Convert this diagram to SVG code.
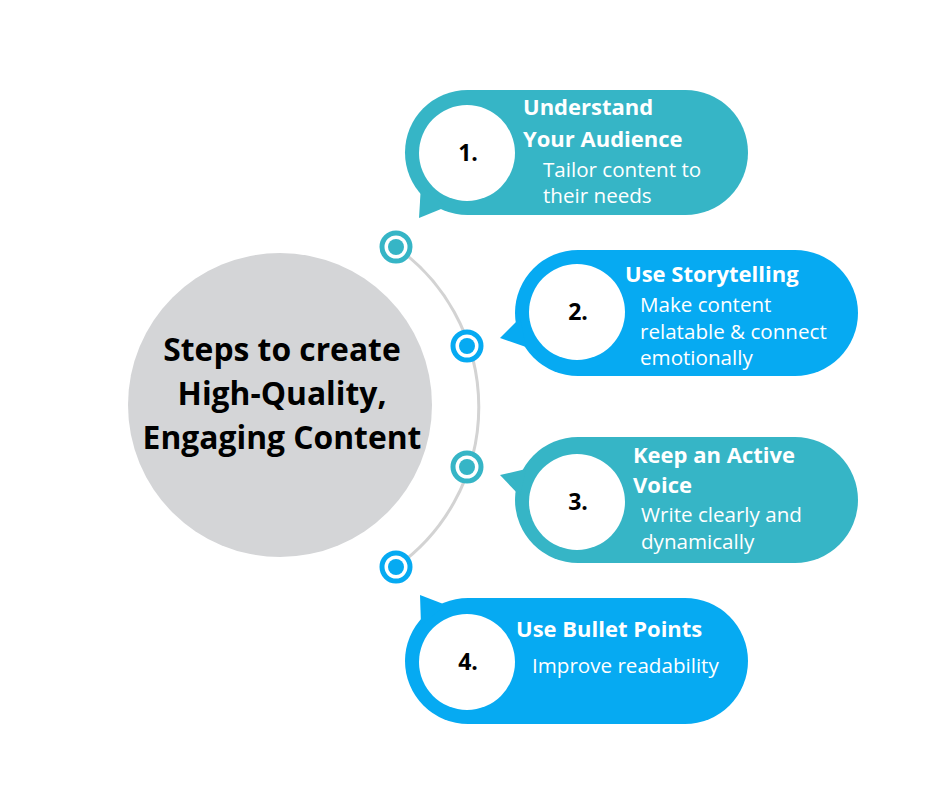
<svg xmlns="http://www.w3.org/2000/svg" width="940" height="788" viewBox="0 0 940 788">
<style>
.teal{fill:#36b5c6}
.blue{fill:#06aaf2}
.num{font-family:"Open Sans","Liberation Sans",sans-serif;font-weight:700;font-size:23px;fill:#000;text-anchor:middle}
.title{font-family:"Open Sans","Liberation Sans",sans-serif;font-weight:700;font-size:22px;fill:#fff}
.desc{font-family:"Open Sans","Liberation Sans",sans-serif;font-size:20.6px;fill:#fff}
.center{font-family:"Open Sans","Liberation Sans",sans-serif;font-weight:700;font-size:31.8px;fill:#000;text-anchor:middle}
</style>
<rect width="940" height="788" fill="#fff"/>
<g id="connectors">
<path d="M396 247 A196 196 0 0 1 396 567" fill="none" stroke="#d3d3d3" stroke-width="3"/>
</g>
<g id="hub">
<circle cx="280" cy="405" r="152" fill="#d4d5d7"/>
<text class="center" x="282" y="361">Steps to create</text>
<text class="center" x="282" y="405">High-Quality,</text>
<text class="center" x="282" y="449">Engaging Content</text>
</g>
<g id="dot1"><circle cx="396" cy="247" r="14" fill="#fff" stroke="#36b5c6" stroke-width="5"/><circle cx="396" cy="247" r="8" class="teal"/></g>
<g id="dot2"><circle cx="467" cy="346" r="14" fill="#fff" stroke="#06aaf2" stroke-width="5"/><circle cx="467" cy="346" r="8" class="blue"/></g>
<g id="dot3"><circle cx="467" cy="467" r="14" fill="#fff" stroke="#36b5c6" stroke-width="5"/><circle cx="467" cy="467" r="8" class="teal"/></g>
<g id="dot4"><circle cx="396" cy="567" r="14" fill="#fff" stroke="#06aaf2" stroke-width="5"/><circle cx="396" cy="567" r="8" class="blue"/></g>
<g id="step1">
<rect x="405" y="90" width="343" height="125" rx="62.5" class="teal"/>
<polygon points="421,185 419,218 446,207" class="teal"/>
<circle cx="467" cy="153" r="48" fill="#fff"/>
<text class="num" x="468" y="161">1.</text>
<text class="title" x="523" y="115">Understand</text>
<text class="title" x="523" y="147">Your Audience</text>
<text class="desc" x="543" y="177">Tailor content to</text>
<text class="desc" x="543" y="203">their needs</text>
</g>
<g id="step2">
<rect x="515" y="250" width="343" height="126" rx="63" class="blue"/>
<polygon points="520,318 500,338 526,347" class="blue"/>
<circle cx="577" cy="312" r="48" fill="#fff"/>
<text class="num" x="578" y="320">2.</text>
<text class="title" x="625" y="282">Use Storytelling</text>
<text class="desc" x="640" y="312">Make content</text>
<text class="desc" x="640" y="339">relatable &amp; connect</text>
<text class="desc" x="640" y="365">emotionally</text>
</g>
<g id="step3">
<rect x="515" y="437" width="343" height="126" rx="63" class="teal"/>
<polygon points="526,469 500,475 520,496" class="teal"/>
<circle cx="577" cy="502" r="48" fill="#fff"/>
<text class="num" x="578" y="510">3.</text>
<text class="title" x="633" y="463">Keep an Active</text>
<text class="title" x="633" y="493">Voice</text>
<text class="desc" x="641" y="522">Write clearly and</text>
<text class="desc" x="641" y="549">dynamically</text>
</g>
<g id="step4">
<rect x="405" y="598" width="343" height="126" rx="63" class="blue"/>
<polygon points="421,625 420,595 446,605" class="blue"/>
<circle cx="467" cy="662" r="48" fill="#fff"/>
<text class="num" x="468" y="670">4.</text>
<text class="title" x="516" y="637">Use Bullet Points</text>
<text class="desc" x="532" y="673">Improve readability</text>
</g>
</svg>
